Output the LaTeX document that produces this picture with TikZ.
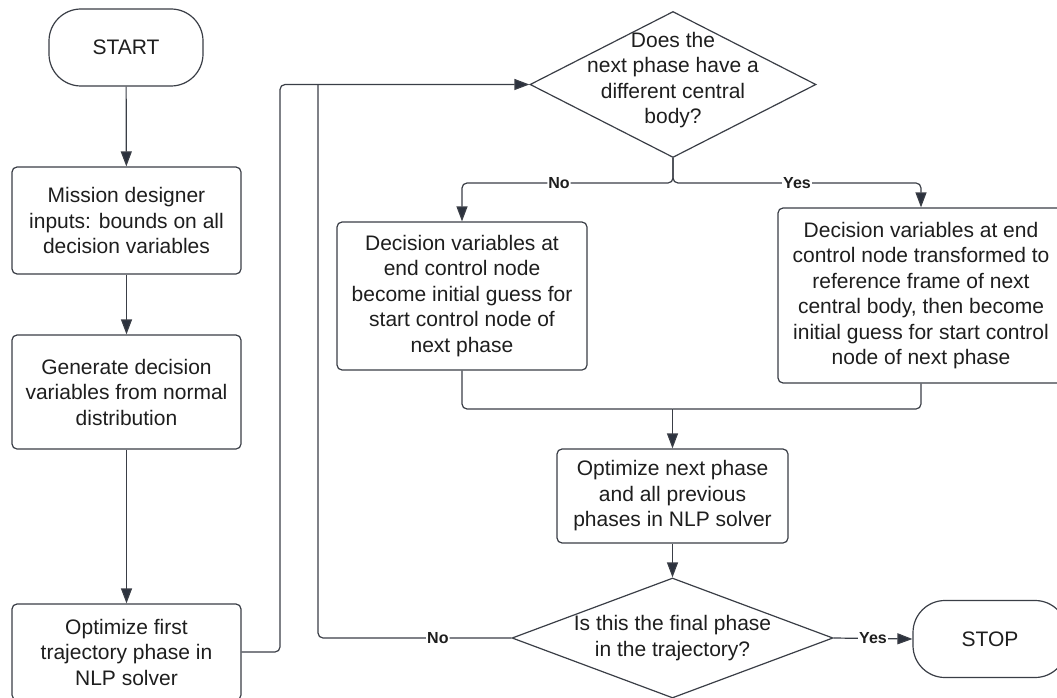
\documentclass[tikz,border=0pt]{standalone}
\usepackage{fontspec}
\setmainfont{Liberation Sans}
\usetikzlibrary{arrows.meta,shapes.geometric,calc}
\definecolor{linec}{RGB}{58,62,70}
\definecolor{arrc}{RGB}{44,50,62}
\definecolor{txtc}{RGB}{30,30,30}
\tikzset{
  base/.style={draw=linec, line width=1.2pt, fill=white, inner sep=0pt, align=center, text=txtc,
    font=\fontsize{21}{25.5}\selectfont},
  box/.style={base, rounded corners=5pt},
  term/.style={base, rounded corners=32pt, minimum width=154pt, minimum height=77pt},
  dia/.style={draw=linec, line width=1.2pt, fill=white, diamond, inner sep=0pt},
  dtext/.style={align=center, text=txtc, inner sep=0pt, font=\fontsize{21}{25.5}\selectfont},
  conn/.style={draw=linec, line width=1.2pt, rounded corners=5pt},
  arr/.style={conn, -{Triangle[width=11pt,length=15pt,fill=arrc]}},
  lab/.style={fill=white, inner sep=1pt, text=txtc, font=\bfseries\fontsize{16}{18}\selectfont}
}
\begin{document}
\begin{tikzpicture}[x=1pt,y=-1pt]
\useasboundingbox (0,0) rectangle (1057,698);
% left column
\node[term] (start) at (126,47.5) {START};
\node[box, minimum width=229pt, minimum height=107pt] (b1) at (126.5,220.5)
  {Mission designer\\inputs: bounds on all\\decision variables};
\node[box, minimum width=229pt, minimum height=114pt] (b2) at (126.5,392)
  {Generate decision\\variables from normal\\distribution};
\node[box, minimum width=229pt, minimum height=96pt] (b3) at (126.5,652)
  {Optimize first\\trajectory phase in\\NLP solver};
% decision 1
\node[dia, minimum width=286pt, minimum height=146pt] (d1) at (673,84.5) {};
\node[dtext] (d1t) at (673,80) {Does the\\next phase have a\\different central\\body?};
% branches
\node[box, minimum width=250pt, minimum height=148pt] (nob) at (462,296)
  {Decision variables at\\end control node\\become initial guess for\\start control node of\\next phase};
\node[box, minimum width=286pt, minimum height=175pt] (yesb) at (921,295.5)
  {Decision variables at end\\control node transformed to\\reference frame of next\\central body, then become\\initial guess for start control\\node of next phase};
\node[box, minimum width=231pt, minimum height=94pt] (opt) at (672.5,496)
  {Optimize next phase\\and all previous\\phases in NLP solver};
% decision 2
\node[dia, minimum width=321pt, minimum height=120pt] (d2) at (672.5,638) {};
\node[dtext] (d2t) at (672.5,638) {Is this the final phase\\in the trajectory?};
\node[term] (stop) at (990,639) {STOP};
% helper coordinates
\coordinate (lA) at (280,84.5);
\coordinate (lB) at (318,84.5);
\coordinate (br) at (673,183);
\coordinate (mg) at (672.5,409);
% connectors
\draw[arr] (start) -- (b1);
\draw[arr] (b1) -- (b2);
\draw[arr] (b2) -- (b3);
\draw[arr] (b3.east) -| (lA) -- (d1.west);
\draw[conn] (d2.west) -| node[lab, pos=0.19] {No} (lB);
\draw[arr] (d1.south) -- (br) -| node[lab, pos=0.27] {No} (nob.north);
\draw[arr] (d1.south) -- (br) -| node[lab, pos=0.25] {Yes} (yesb.north);
\draw[conn] (nob.south) |- (mg);
\draw[conn] (yesb.south) |- (mg);
\draw[arr] (mg) -- (opt.north);
\draw[arr] (opt) -- (d2.north);
\draw[arr] (d2.east) -- node[lab] {Yes} (stop.west);
\end{tikzpicture}
\end{document}
